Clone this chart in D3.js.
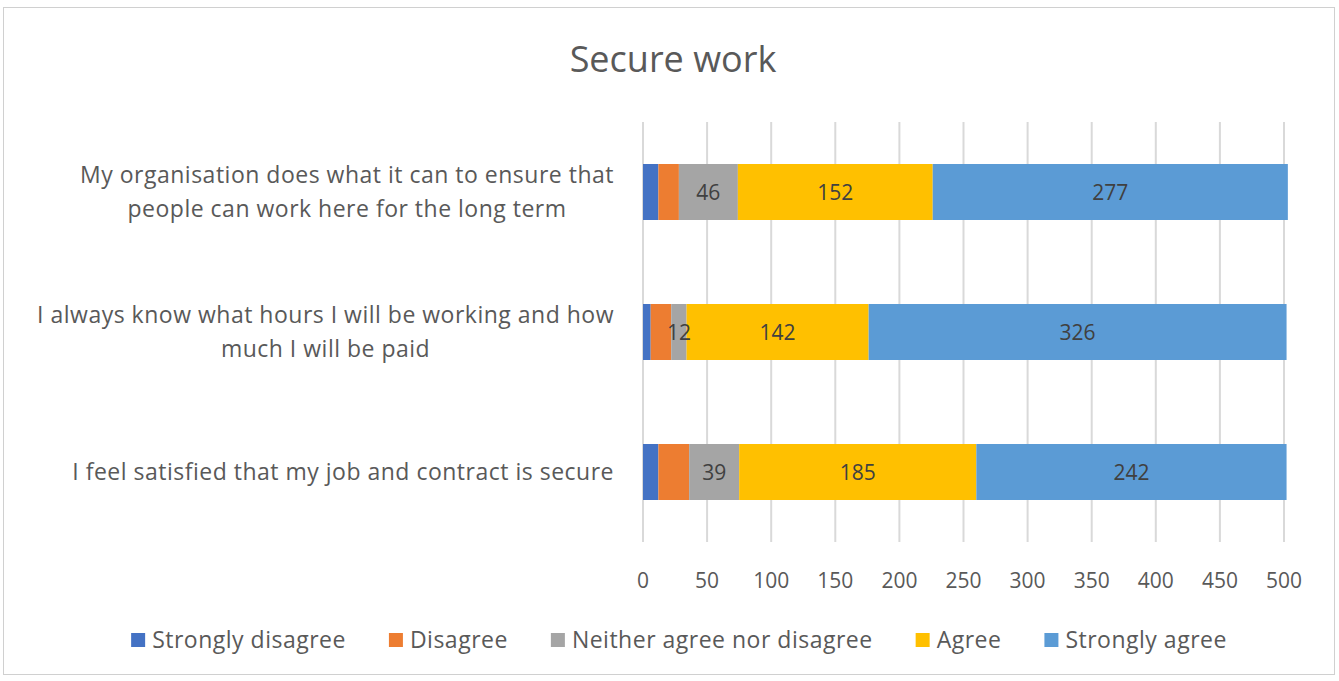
<!DOCTYPE html>
<html>
<head>
<meta charset="utf-8">
<script src="https://cdn.jsdelivr.net/npm/d3@7"></script>
<style>
  body { margin: 0; background: #fff; }
  svg { display: block; font-family: "Open Sans", sans-serif; }
  .grid line { stroke: #d9d9d9; stroke-width: 2; }
  .tick-label, .cat-label, .legend-label { fill: #595959; }
  .cat-label, .legend-label { letter-spacing: 0.5px; }
  .value-label { fill: #404040; }
</style>
</head>
<body>
<svg id="chart" width="1339" height="681"></svg>
<script>
// chart data
const categories = [
    ["My organisation does what it can to ensure that", "people can work here for the long term"],
    ["I always know what hours I will be working and how", "much I will be paid"],
    ["I feel satisfied that my job and contract is secure"]
];
const seriesNames = ["Strongly disagree", "Disagree", "Neither agree nor disagree", "Agree", "Strongly agree"];
const stronglyDisagree = [12, 6, 12];
const disagree = [16, 16, 24];
const neither = [46, 12, 39];
const agree = [152, 142, 185];
const stronglyAgree = [277, 326, 242];
const xTicks = [0, 50, 100, 150, 200, 250, 300, 350, 400, 450, 500];

const colors = ["#4472c4", "#ed7d31", "#a5a5a5", "#ffc000", "#5b9bd5"];

// build rows for d3.stack
const seriesValues = [stronglyDisagree, disagree, neither, agree, stronglyAgree];
const rows = categories.map(function (c, i) {
    let r = {idx: i};
    seriesNames.forEach(function (s, j) { r[s] = seriesValues[j][i]; });
    return r;
});

const svg = d3.select("#chart");

// outer frame
svg.append("rect")
    .attr("x", 3.5).attr("y", 7.5)
    .attr("width", 1331).attr("height", 667)
    .attr("fill", "none")
    .attr("stroke", "#d0d0d0");

svg.append("text")
    .attr("x", 673).attr("y", 72)
    .attr("text-anchor", "middle")
    .attr("font-size", 36)
    .attr("fill", "#595959")
    .text("Secure work");

let x = d3.scaleLinear().domain([0, 500]).range([643, 1284]);
let y = d3.scaleBand().domain(d3.range(categories.length)).range([122, 542]).paddingInner(0.6).paddingOuter(0.3);

// gridlines
svg.append("g").classed("grid", true)
    .selectAll("line")
    .data(xTicks)
    .enter()
    .append("line")
    .attr("x1", d => x(d)).attr("x2", d => x(d))
    .attr("y1", 122).attr("y2", 542);

// tick labels
svg.append("g")
    .selectAll("text")
    .data(xTicks)
    .enter()
    .append("text")
    .classed("tick-label", true)
    .attr("x", d => x(d))
    .attr("y", 588)
    .attr("text-anchor", "middle")
    .attr("font-size", 21)
    .text(d => d);

// stacked bars
let stacked = d3.stack().keys(seriesNames)(rows);

let layers = svg.append("g")
    .selectAll("g")
    .data(stacked)
    .enter()
    .append("g")
    .attr("fill", (d, i) => colors[i]);

layers.selectAll("rect")
    .data(d => d)
    .enter()
    .append("rect")
    .attr("x", d => x(d[0]))
    .attr("width", d => x(d[1]) - x(d[0]))
    .attr("y", d => y(d.data.idx))
    .attr("height", y.bandwidth());

// value labels (only the larger series are labelled)
stacked.forEach(function (layer, i) {
    if (i < 2) return;
    svg.append("g")
        .selectAll("text")
        .data(layer)
        .enter()
        .append("text")
        .classed("value-label", true)
        .attr("x", d => (x(d[0]) + x(d[1])) / 2)
        .attr("y", d => y(d.data.idx) + y.bandwidth() / 2 + 8)
        .attr("text-anchor", "middle")
        .attr("font-size", 21)
        .text(d => d[1] - d[0]);
});

// category labels, block right aligned to the axis, lines centred in the block
const lineH = 34;
categories.forEach(function (lines, i) {
    let g = svg.append("g");
    let cy = y(i) + y.bandwidth() / 2;
    let texts = g.selectAll("text")
        .data(lines)
        .enter()
        .append("text")
        .classed("cat-label", true)
        .attr("font-size", 23)
        .attr("y", (d, k) => cy + 8 + (k - (lines.length - 1) / 2) * lineH)
        .text(d => d);
    let widest = d3.max(texts.nodes(), n => n.getComputedTextLength());
    texts.attr("x", 614 - widest / 2).attr("text-anchor", "middle");
});

// legend
let legend = svg.append("g");
let lx = 0;
let items = legend.selectAll("g")
    .data(seriesNames)
    .enter()
    .append("g");
items.append("rect")
    .attr("width", 14).attr("height", 14)
    .attr("y", 633)
    .attr("fill", (d, i) => colors[i]);
items.append("text")
    .classed("legend-label", true)
    .attr("x", 21)
    .attr("y", 648)
    .attr("font-size", 23)
    .text(d => d);
let offsets = [];
items.each(function () {
    offsets.push(lx);
    lx += this.getBBox().width + 43;
});
lx -= 43;
let start = 679 - lx / 2;
items.attr("transform", (d, i) => "translate(" + (start + offsets[i]) + ",0)");
</script>
</body>
</html>
